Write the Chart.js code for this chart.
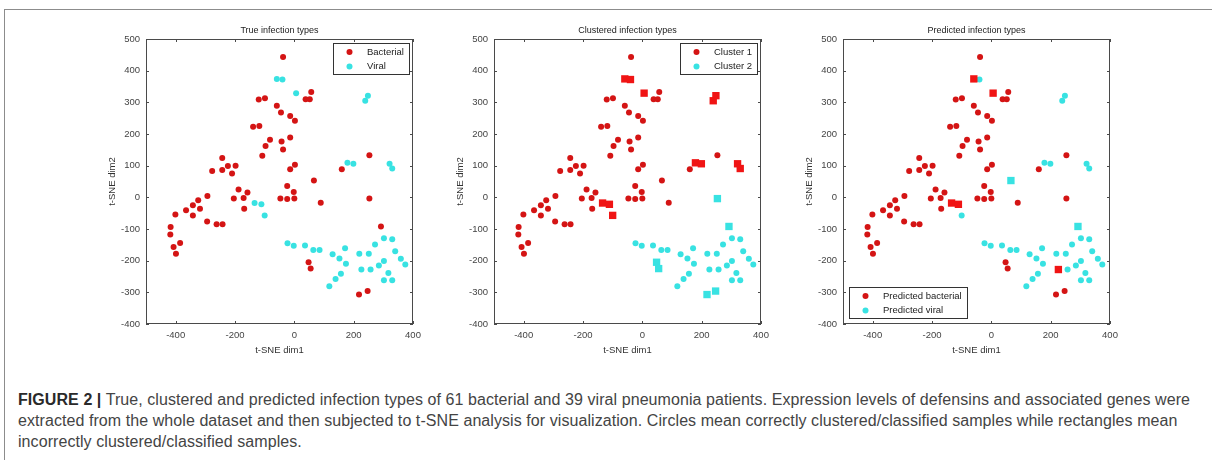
<!DOCTYPE html>
<html lang="en">
<head>
<meta charset="UTF-8">
<title>Figure 2 - t-SNE infection types</title>
<script src="https://cdn.jsdelivr.net/npm/chart.js"></script>
<style>
  body { margin: 0; width: 1212px; height: 460px; overflow: hidden; background: #fff; position: relative; }
  .frame { position: absolute; left: 4px; top: 9px; width: 1300px; height: 600px; border: 1px solid #8c8c8c; }
  .panel { position: absolute; top: 18px; }
  .caption {
    position: absolute; left: 18px; top: 389px; white-space: nowrap;
    font-family: "Liberation Sans", Arial, sans-serif; font-size: 16px; letter-spacing: 0.07px;
    line-height: 21px; color: #444;
  }
  .caption b { color: #2a2a2a; }
</style>
</head>
<body>
<div class="frame"></div>
<canvas class="panel" id="p0" width="340" height="345" style="left:90px"></canvas>
<canvas class="panel" id="p1" width="340" height="345" style="left:438px"></canvas>
<canvas class="panel" id="p2" width="340" height="345" style="left:787px"></canvas>
<div class="caption"><b>FIGURE 2 |</b> True, clustered and predicted infection types of 61 bacterial and 39 viral pneumonia patients. Expression levels of defensins and associated genes were<br>extracted from the whole dataset and then subjected to t-SNE analysis for visualization. Circles mean correctly clustered/classified samples while rectangles mean<br>incorrectly clustered/classified samples.</div>

<script>
// t-SNE coordinates, bacterial patients (61)
const bactX = [-38, -120, -99, -59, -45, -14, 2, -139, -118, -82, -43, -97, -38, -14, -108, -243, -224, -198, -277, -243,
  -210, 2, -14, 66, -24, -2, -47, -24, 0, 89, -188, -158, -204, -171, -169, -293, -324, -342, -318, -365,
  -342, -401, -294, -262, -242, -417, -418, -407, -385, -399, 160, 253, 253, 292, 48, 55, 218, 247, 38, 52, 57];
const bactY = [443, 309, 313, 289, 268, 257, 242, 223, 225, 182, 176, 162, 151, 189, 131, 124, 99, 100, 83, 86,
  75, 103, 89, 53, 36, 17, -4, -5, -4, -17, 25, 15, -4, -2, -36, 4, -9, -25, -36, -41,
  -57, -54, -76, -85, -85, -94, -117, -157, -144, -178, 89, 133, -4, -92, -205, -225, -307, -296, 310, 310, 333];

// t-SNE coordinates, viral patients (39)
const viralX = [-59, -40, 6, 239, 248, 179, 199, 321, 330, -134, -111, -100, -23, -2, 36, 64, 85, 129, 171, 152,
  174, 157, 139, 118, 219, 251, 272, 302, 330, 340, 359, 374, 302, 285, 226, 257, 317, 302, 330];
const viralY = [374, 372, 329, 305, 321, 109, 106, 106, 91, -18, -22, -57, -145, -153, -152, -166, -166, -180, -161, -193,
  -210, -241, -258, -281, -178, -178, -149, -129, -132, -170, -194, -212, -201, -215, -228, -228, -239, -262, -262];

// wrongly clustered / classified samples (indices into the arrays above)
const viralInCluster1 = [0, 1, 2, 3, 4, 5, 6, 7, 8, 9, 10, 11];
const bactInCluster2 = [52, 53, 54, 55, 56, 57];
const viralPredBact = [0, 2, 9, 10, 34];
const bactPredViral = [23, 53];

const xTicks = [-400, -200, 0, 200, 400];
const yTicks = [-400, -300, -200, -100, 0, 100, 200, 300, 400, 500];

const panelTitles = ['True infection types', 'Clustered infection types', 'Predicted infection types'];
const legendLabels = [['Bacterial', 'Viral'], ['Cluster 1', 'Cluster 2'], ['Predicted bacterial', 'Predicted viral']];
const legendCorner = ['ne', 'ne', 'sw'];

const RED = '#d41414';
const RED_SQ = '#f01414';
const CYAN = '#38e2e2';
const FONT = '"Liberation Sans", Arial, sans-serif';

const allB = bactX.map((_, i) => i);
const allV = viralX.map((_, i) => i);
const without = (all, sub) => all.filter(i => !sub.includes(i));
function pts(xs, ys, idx, wrong) {
  return idx.map(i => ({ x: xs[i], y: ys[i], wrong: wrong }));
}

function series(label, color, sqColor, data) {
  return {
    label: label,
    data: data,
    backgroundColor: c => (c.raw && c.raw.wrong ? sqColor : color),
    pointStyle: c => (c.raw && c.raw.wrong ? 'rect' : 'circle'),
    pointRadius: c => (c.raw && c.raw.wrong ? 5.2 : 3),
    pointBorderWidth: 0,
    legendColor: color
  };
}

const panels = [
  [
    series(legendLabels[0][0], RED, RED_SQ, pts(bactX, bactY, allB, false)),
    series(legendLabels[0][1], CYAN, CYAN, pts(viralX, viralY, allV, false))
  ],
  [
    series(legendLabels[1][0], RED, RED_SQ,
      pts(bactX, bactY, without(allB, bactInCluster2), false).concat(pts(viralX, viralY, viralInCluster1, true))),
    series(legendLabels[1][1], CYAN, CYAN,
      pts(viralX, viralY, without(allV, viralInCluster1), false).concat(pts(bactX, bactY, bactInCluster2, true)))
  ],
  [
    series(legendLabels[2][0], RED, RED_SQ,
      pts(bactX, bactY, without(allB, bactPredViral), false).concat(pts(viralX, viralY, viralPredBact, true))),
    series(legendLabels[2][1], CYAN, CYAN,
      pts(viralX, viralY, without(allV, viralPredBact), false).concat(pts(bactX, bactY, bactPredViral, true)))
  ]
];

// matlab style box: inward ticks on all sides, title and legend inside the axes
const matlabAxes = {
  id: 'matlabAxes',
  afterDatasetsDraw(chart, args, opts) {
    const ctx = chart.ctx;
    const a = chart.chartArea;
    const xs = chart.scales.x, ys = chart.scales.y;
    ctx.save();
    ctx.strokeStyle = '#4a4a4a';
    ctx.lineWidth = 1;
    ctx.strokeRect(a.left + 0.5, a.top + 0.5, a.right - a.left - 1, a.bottom - a.top - 1);
    ctx.beginPath();
    xTicks.forEach(v => {
      const px = Math.round(xs.getPixelForValue(v)) + 0.5;
      ctx.moveTo(px, a.bottom); ctx.lineTo(px, a.bottom - 3);
      ctx.moveTo(px, a.top); ctx.lineTo(px, a.top + 3);
    });
    yTicks.forEach(v => {
      const py = Math.round(ys.getPixelForValue(v)) + 0.5;
      ctx.moveTo(a.left, py); ctx.lineTo(a.left + 3, py);
      ctx.moveTo(a.right, py); ctx.lineTo(a.right - 3, py);
    });
    ctx.stroke();

    // title
    ctx.fillStyle = '#222';
    ctx.font = '9px ' + FONT;
    ctx.textAlign = 'center';
    ctx.textBaseline = 'middle';
    ctx.fillText(opts.title, (a.left + a.right) / 2, a.top - 8.5);

    // legend
    ctx.font = '9.5px ' + FONT;
    const labels = chart.data.datasets.map(d => d.label);
    const tw = Math.max(...labels.map(l => ctx.measureText(l).width));
    const w = Math.round(34 + tw + 5), h = 31;
    const bx = opts.corner === 'sw' ? a.left + 6 : a.right - 4 - w;
    const by = opts.corner === 'sw' ? a.bottom - 6 - h : a.top + 4;
    ctx.fillStyle = '#fff';
    ctx.fillRect(bx, by, w, h);
    ctx.strokeStyle = '#333';
    ctx.strokeRect(bx + 0.5, by + 0.5, w, h);
    chart.data.datasets.forEach((d, i) => {
      const cy = by + 9 + i * 14.5;
      ctx.fillStyle = d.legendColor;
      ctx.beginPath();
      ctx.arc(bx + 16.5, cy, 3, 0, Math.PI * 2);
      ctx.fill();
      ctx.fillStyle = '#222';
      ctx.textAlign = 'left';
      ctx.fillText(d.label, bx + 34, cy);
    });
    ctx.restore();
  }
};

panels.forEach((datasets, p) => {
  new Chart(document.getElementById('p' + p), {
    type: 'scatter',
    data: { datasets: datasets },
    plugins: [matlabAxes],
    options: {
      responsive: false,
      animation: false,
      devicePixelRatio: 1,
      events: [],
      layout: { padding: { top: 21, right: 17, bottom: 0, left: 0 } },
      plugins: {
        legend: { display: false },
        tooltip: { enabled: false },
        matlabAxes: { title: panelTitles[p], corner: legendCorner[p] }
      },
      scales: {
        x: {
          type: 'linear', min: -500, max: 400,
          afterBuildTicks: s => { s.ticks = xTicks.map(v => ({ value: v })); },
          afterFit: s => { s.height = 39; },
          grid: { display: false, drawTicks: false },
          border: { display: false },
          ticks: { padding: 6, color: '#444', font: { size: 9.5, family: FONT } },
          title: { display: true, text: 't-SNE dim1', color: '#333', font: { size: 9.5, family: FONT },
                   padding: { top: 0, bottom: 6.5 } }
        },
        y: {
          type: 'linear', min: -400, max: 500,
          afterBuildTicks: s => { s.ticks = yTicks.map(v => ({ value: v })); },
          afterFit: s => { s.width = 56; },
          grid: { display: false, drawTicks: false },
          border: { display: false },
          ticks: { padding: 6, color: '#444', font: { size: 9.5, family: FONT } },
          title: { display: true, text: 't-SNE dim2', color: '#333', font: { size: 9.5, family: FONT },
                   padding: { top: 17, bottom: 0 } }
        }
      }
    }
  });
});
</script>
</body>
</html>
